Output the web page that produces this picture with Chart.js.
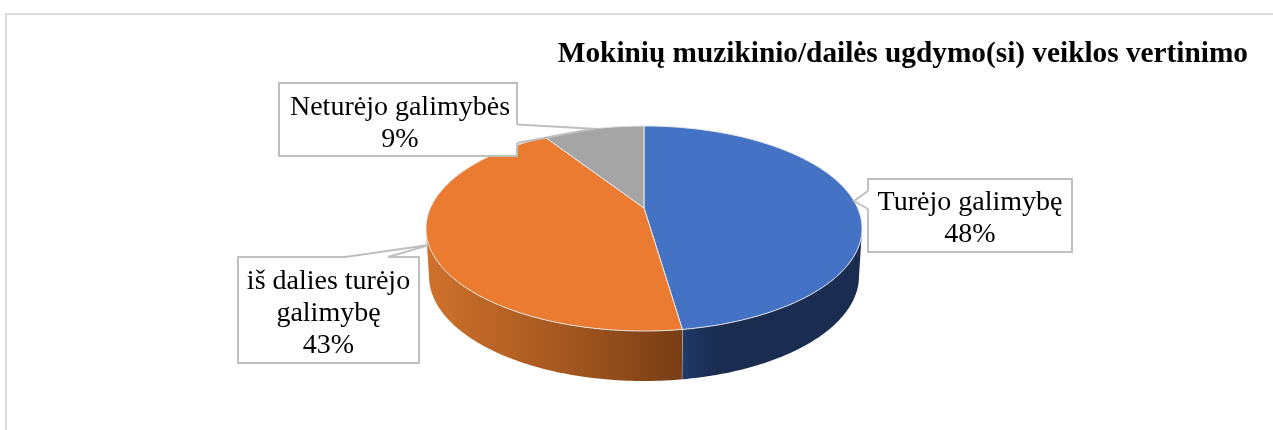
<!DOCTYPE html>
<html>
<head>
    <meta charset="utf-8">
    <title>Mokinių veiklos vertinimas</title>
    <script src="https://cdn.jsdelivr.net/npm/chart.js"></script>
    <style>
        html, body { margin: 0; padding: 0; background: #fff; }
        canvas { display: block; }
    </style>
</head>
<body>
<canvas id="pieChart" width="1273" height="430"></canvas>

<script>
    const titleText = 'Mokinių muzikinio/dailės ugdymo(si) veiklos vertinimo';
    const categories = ['Turėjo galimybę', 'iš dalies turėjo galimybę', 'Neturėjo galimybės'];
    const shares = [47.7, 43.2, 9.1];
    const sliceColors = ['#4472c4', '#ea7b31', '#a5a5a5'];

    // look of the tilted pie, relative to the circle chart.js lays out
    const squash = 2.127;      // ellipse width / height
    const tilt = 0.2;          // perspective: how far the apex sits above the ellipse centre
    const depth = 47.5;
    const floorRx = 215 / 102.5;
    const floorRy = 105 / 102.5;
    const sideStops = [
        [[0, '#203a68'], [0.2, '#1a2c50'], [1, '#1a2c50']],
        [[0, '#cf712c'], [0.5, '#a85920'], [1, '#783d15']],
        [[0, '#6e6e6e'], [1, '#6e6e6e']]
    ];

    // callout boxes: x, y, w, h, and the two points where the tail leaves the box
    const calloutBoxes = [
        { rect: [868, 179, 204, 73], tail: [[868, 191], [868, 209]], dx: 0, dy: 3 },
        { rect: [238, 257, 181, 106], tail: [[345, 257], [388, 257]], dx: 0, dy: 4 },
        { rect: [279, 83, 238, 73], tail: [[517, 124.5], [517, 143]], dx: 2, dy: 4 }
    ];

    function project(angle) {
        const u = Math.cos(angle), v = Math.sin(angle);
        const k = 1 - tilt * v;
        return { x: Math.sqrt(1 - tilt * tilt) * u / k, y: (v - tilt) / k };
    }

    function topPoint(arc, p) {
        return { x: arc.x + p.x * arc.outerRadius * squash, y: arc.y + p.y * arc.outerRadius };
    }

    function floorPoint(arc, p) {
        return {
            x: arc.x + p.x * arc.outerRadius * floorRx,
            y: arc.y + depth + p.y * arc.outerRadius * floorRy
        };
    }

    function sampleAngles(arc) {
        const out = [];
        const steps = Math.ceil((arc.endAngle - arc.startAngle) / 0.01);
        for (let i = 0; i <= steps; i++) {
            out.push(arc.startAngle + (arc.endAngle - arc.startAngle) * i / steps);
        }
        return out;
    }

    function drawSide(ctx, chart, arc, index) {
        const pts = sampleAngles(arc).map(project).filter(p => p.y >= 0);
        if (pts.length < 2) return;
        const tops = pts.map(p => topPoint(arc, p));
        const floors = pts.map(p => floorPoint(arc, p));
        const xs = tops.map(p => p.x);
        const grad = ctx.createLinearGradient(Math.min(...xs), 0, Math.max(...xs), 0);
        sideStops[index].forEach(s => grad.addColorStop(s[0], s[1]));
        ctx.beginPath();
        tops.forEach((p, i) => i ? ctx.lineTo(p.x, p.y) : ctx.moveTo(p.x, p.y));
        floors.slice().reverse().forEach(p => ctx.lineTo(p.x, p.y));
        ctx.closePath();
        ctx.fillStyle = grad;
        ctx.fill();
        // seam between the two visible walls
        if (index === 0) {
            const a = tops[tops.length - 1], b = floors[floors.length - 1];
            ctx.beginPath();
            ctx.moveTo(a.x, a.y);
            ctx.lineTo(b.x, b.y);
            ctx.strokeStyle = '#d9d4d0';
            ctx.lineWidth = 1;
            ctx.stroke();
        }
    }

    function drawTop(ctx, arc, index) {
        ctx.beginPath();
        sampleAngles(arc).map(project).map(p => topPoint(arc, p))
            .forEach((p, i) => i ? ctx.lineTo(p.x, p.y) : ctx.moveTo(p.x, p.y));
        const apex = topPoint(arc, { x: 0, y: -tilt });
        ctx.lineTo(apex.x, apex.y);
        ctx.closePath();
        ctx.fillStyle = sliceColors[index];
        ctx.fill();
        ctx.strokeStyle = '#e6e6e6';
        ctx.lineWidth = 1;
        ctx.stroke();
    }

    function wrapLabel(ctx, text, maxWidth) {
        const lines = [];
        let line = '';
        text.split(' ').forEach(word => {
            const next = line ? line + ' ' + word : word;
            if (ctx.measureText(next).width > maxWidth && line) {
                lines.push(line);
                line = word;
            } else {
                line = next;
            }
        });
        lines.push(line);
        return lines;
    }

    function drawCallout(ctx, arc, index) {
        const c = calloutBoxes[index];
        const [x, y, w, h] = c.rect;
        const tip = topPoint(arc, project((arc.startAngle + arc.endAngle) / 2));

        ctx.fillStyle = '#fff';
        ctx.strokeStyle = '#bfbfbf';
        ctx.lineWidth = 2;
        ctx.fillRect(x, y, w, h);
        ctx.strokeRect(x, y, w, h);

        ctx.beginPath();
        ctx.moveTo(c.tail[0][0], c.tail[0][1]);
        ctx.lineTo(tip.x, tip.y);
        ctx.lineTo(c.tail[1][0], c.tail[1][1]);
        ctx.closePath();
        ctx.fill();
        ctx.strokeStyle = '#fff';
        ctx.beginPath();
        ctx.moveTo(c.tail[0][0], c.tail[0][1]);
        ctx.lineTo(c.tail[1][0], c.tail[1][1]);
        ctx.stroke();
        ctx.strokeStyle = '#bfbfbf';
        ctx.lineWidth = 2;
        ctx.beginPath();
        ctx.moveTo(c.tail[0][0], c.tail[0][1]);
        ctx.lineTo(tip.x, tip.y);
        ctx.lineTo(c.tail[1][0], c.tail[1][1]);
        ctx.stroke();

        ctx.font = '28px "Liberation Serif"';
        ctx.fillStyle = '#000';
        ctx.textAlign = 'center';
        ctx.textBaseline = 'middle';
        const lines = wrapLabel(ctx, categories[index], w - 14);
        lines.push(Math.round(shares[index]) + '%');
        const lineHeight = 32;
        const startY = y + h / 2 + c.dy - (lines.length - 1) * lineHeight / 2;
        lines.forEach((t, i) => ctx.fillText(t, x + w / 2 + c.dx, startY + i * lineHeight));
    }

    const tiltedPie = {
        id: 'tiltedPie',
        beforeDraw(chart) {
            const ctx = chart.ctx;
            ctx.save();
            ctx.strokeStyle = '#d9d9d9';
            ctx.lineWidth = 2;
            ctx.beginPath();
            ctx.moveTo(6, 430);
            ctx.lineTo(6, 14);
            ctx.lineTo(1273, 14);
            ctx.stroke();
            ctx.restore();
        },
        // chart.js can only draw round arcs, so the slices are redrawn from its elements
        beforeDatasetDraw(chart, args) {
            const ctx = chart.ctx;
            const arcs = args.meta.data;
            ctx.save();
            arcs.forEach((arc, i) => drawSide(ctx, chart, arc, i));
            arcs.forEach((arc, i) => drawTop(ctx, arc, i));
            arcs.forEach((arc, i) => drawCallout(ctx, arc, i));
            ctx.restore();
            return false;
        }
    };

    new Chart(document.getElementById('pieChart').getContext('2d'), {
        type: 'pie',
        data: {
            labels: categories,
            datasets: [{
                data: shares,
                backgroundColor: sliceColors,
                borderWidth: 0
            }]
        },
        options: {
            responsive: false,
            animation: false,
            layout: { padding: { top: 36, bottom: 99, left: 40, right: 25 } },
            plugins: {
                legend: { display: false },
                tooltip: { enabled: false },
                title: {
                    display: true,
                    text: titleText,
                    align: 'end',
                    color: '#000',
                    font: { family: '"Liberation Serif"', size: 29.3, weight: 'bold', lineHeight: 1 },
                    padding: { top: 3.5, bottom: 57.2 }
                }
            }
        },
        plugins: [tiltedPie]
    });
</script>

</body>
</html>
